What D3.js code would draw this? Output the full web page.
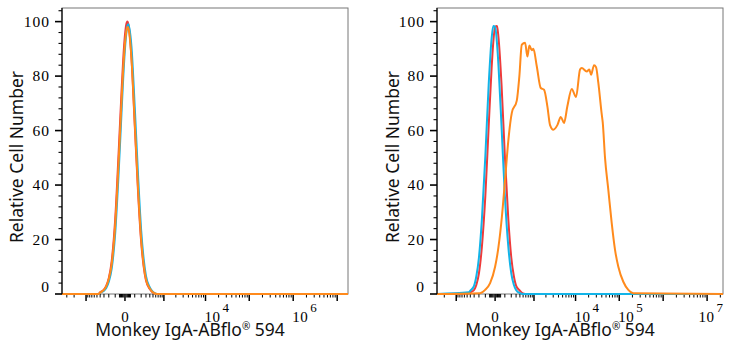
<!DOCTYPE html>
<html><head><meta charset="utf-8">
<script src="https://cdn.jsdelivr.net/npm/d3@7"></script>
<style>html,body{margin:0;padding:0;background:#fff;} svg{display:block}</style>
</head><body><svg id="c" width="733" height="350"></svg>
<script>
// ---- data ----
const narrowIntensity = [-450,-400,-300,-250,-200,-150,-100,-60,-30,-15,0,15,22,30,60,100,150,200,250,300,400,500,650];
const leftRed    = [0,0.6,1.6,3,5.8,12.2,27.5,51.2,74,85.7,95.1,99.7,100,99,87.1,62.2,36.4,19.2,10,5,1.8,0.5,0];
const leftCyan   = [0,0.4,1.2,2.2,4.5,9.4,22.4,43.8,66.4,78.9,90.1,97.1,98.6,99,91.1,68.7,42.4,23.4,12.7,6.6,2.4,0.7,0];
const leftOrange = [0,0.5,1.5,2.8,5.5,11,25.4,47.8,70.3,82.1,92,97.3,98,97.5,87,63.3,37.7,20.2,10.7,5.4,2,0.6,0];
const rightRed   = [0.3,0.6,1.5,3.4,7.6,17.3,36.1,61.6,83.1,92.4,98.1,98.4,96.8,93.8,76.9,50.7,27.3,13.4,6.6,3.1,1.2,0.2,0];
const rightCyan  = [0.6,1.2,3.1,6.6,13.4,27.3,50.7,76.9,93.8,98.4,98.1,92.4,88.4,83.1,61.6,36.1,17.3,7.6,3.4,1.5,0.3,0,0];
const rightOrangeIntensity = [-179,-103,-45,0,28,63,103,151,210,317,385,457,572,664,754,874,964,1181,1491,1800,2169,2521,3024,3765,4530,5410,6458,8168,10275,12690,13890,18090,20760,22700,26600,29550,33350,39860,42040,47400,56390,67400,80180,95300,123800,161000,209100];
const rightOrange = [0.3,1.5,4,10,17,28,42,56.6,66.5,71,80,91.5,92.2,87.2,91.2,89.5,90,83.6,75.6,75,68.9,62,60.3,62,65,62.8,68.9,75.3,72.3,82.4,83,81.7,82.4,80.5,84,83.3,77.5,66,63,50,38.2,26,16.2,10,4.5,1.5,0.3];
const yTickLabels = [0,20,40,60,80,100];
const leftXLabels = [0,1e4,1e6];
const rightXLabels = [0,1e4,1e5,1e7];
const xTitle = "Monkey IgA-ABflo";
const xTitleSup = "®";
const xTitleEnd = " 594";
const yTitle = "Relative Cell Number";

const colors = {red:"#ee3b3b", cyan:"#12b4e8", orange:"#ff8a1c"};

const panels = [
  {left:62, domain:[-3900,1.76e7], labels:leftXLabels, yTitleX:22.5, xTitleX:190,
   series:[{x:narrowIntensity,y:leftRed,c:colors.red},{x:narrowIntensity,y:leftCyan,c:colors.cyan},{x:narrowIntensity,y:leftOrange,c:colors.orange}]},
  {left:437, domain:[-3000,2.3e7], labels:rightXLabels, yTitleX:399, xTitleX:560,
   series:[{x:narrowIntensity,y:rightRed,c:colors.red},{x:narrowIntensity,y:rightCyan,c:colors.cyan},{x:rightOrangeIntensity,y:rightOrange,c:colors.orange}]}
];
const W = 286;
const svg = d3.select("#c");
const y = d3.scaleLinear().domain([0,105]).range([294,8]);
const serif = "'Liberation Serif', 'DejaVu Serif', serif";
const sans = "'Noto Sans', 'Open Sans', sans-serif";

function xTicks(domain){
  const out=[{v:0,major:true}];
  for(let k=1;k<=7;k++) for(let m=1;m<=9;m++){
    if(k===1 && m>5) continue;
    const v=m*Math.pow(10,k);
    [v,-v].forEach(t=>{ if(t>domain[0]&&t<domain[1]) out.push({v:t,major:m===1&&k>=3}); });
  }
  return out;
}

panels.forEach(p=>{
  const x = d3.scaleSymlog().constant(150).domain(p.domain).range([p.left,p.left+W]);
  const g = svg.append("g");
  g.append("rect").attr("x",p.left).attr("y",y(105)).attr("width",W).attr("height",y(0)-y(105))
    .attr("fill","none").attr("stroke","#777").attr("stroke-width",1);
  d3.range(0,105,4).forEach(v=>{
    const major = v%20===0;
    g.append("line").attr("x1",p.left-(major?7:3.5)).attr("x2",p.left).attr("y1",y(v)).attr("y2",y(v))
      .attr("stroke","#000").attr("stroke-width",major?1.6:1.1);
  });
  yTickLabels.forEach(v=>{
    g.append("text").attr("x",p.left-12).attr("y",y(v)+(v===0?-2:5)).attr("text-anchor","end")
      .attr("font-family",serif).attr("font-size",15.5).attr("letter-spacing",1).attr("fill","#000").text(v);
  });
  xTicks(x.domain()).forEach(t=>{
    g.append("line").attr("x1",x(t.v)).attr("x2",x(t.v)).attr("y1",y(0)).attr("y2",y(0)+(t.major?7:3.5))
      .attr("stroke","#000").attr("stroke-width",t.major?1.5:1);
  });
  const line = d3.line().x(d=>x(d[0])).y(d=>y(d[1])).curve(d3.curveMonotoneX);
  p.series.forEach(s=>{
    const pts=[[p.domain[0],0]].concat(s.x.map((v,i)=>[v,s.y[i]]),[[p.domain[1],0]]);
    g.append("path").attr("d",line(pts)).attr("fill","none").attr("stroke",s.c).attr("stroke-width",2)
      .attr("stroke-linejoin","round");
  });
  g.append("line").attr("x1",p.left).attr("x2",p.left).attr("y1",y(105)).attr("y2",y(0)).attr("stroke","#000").attr("stroke-width",1.2);
  p.labels.forEach(v=>{
    if(v===0){
      g.append("text").attr("x",x(0)).attr("y",322).attr("text-anchor","middle")
        .attr("font-family",serif).attr("font-size",15).text("0");
    } else {
      const e = Math.round(Math.log10(v));
      const base = g.append("text").attr("y",322).attr("font-family",serif).attr("font-size",15).attr("letter-spacing",0.5).text("10");
      const sup = g.append("text").attr("y",312).attr("font-family",serif).attr("font-size",13).text(e);
      const bw = base.node().getComputedTextLength(), sw = sup.node().getComputedTextLength();
      let bx = x(v)-1;
      if(bx+bw+2+sw > p.left+W) bx = p.left+W - (bw+2+sw);
      base.attr("x",bx); sup.attr("x",bx+bw+2);
    }
  });
  const xt = g.append("text").attr("x",p.xTitleX).attr("y",336).attr("text-anchor","middle")
    .attr("font-family",sans).attr("font-size",17.5).attr("fill","#111");
  xt.append("tspan").text(xTitle);
  xt.append("tspan").attr("font-size",10).attr("dy",-6).text(xTitleSup);
  xt.append("tspan").attr("dy",6).text(xTitleEnd);
  g.append("text").attr("transform",`translate(${p.yTitleX},${(y(0)+y(105))/2+6}) rotate(-90)`)
    .attr("text-anchor","middle").attr("font-family",sans).attr("font-size",17.5).attr("fill","#111").text(yTitle);
});
</script>
</body></html>
